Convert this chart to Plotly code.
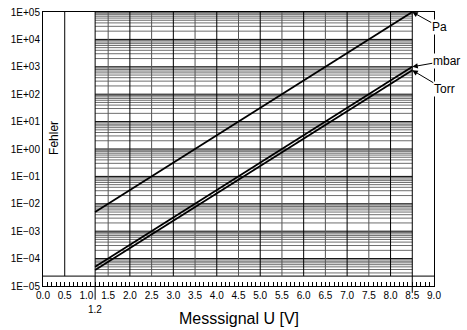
import numpy as np
import plotly.graph_objects as go

# Data
u_volts = [1.2, 8.5]
pa_vals = [5.0e-3, 1.0e5]
mbar_vals = [5.0e-5, 1.0e3]
torr_vals = [3.8e-5, 7.5e2]
series_names = ["Pa", "mbar", "Torr"]

x_tickvals = [0.0, 0.5, 1.0, 1.5, 2.0, 2.5, 3.0, 3.5, 4.0, 4.5, 5.0, 5.5, 6.0, 6.5, 7.0, 7.5, 8.0, 8.5, 9.0]
x_ticktext = ["0.0", "0.5", "1.0", "1.5", "2.0", "2.5", "3.0", "3.5", "4.0", "4.5",
              "5.0", "5.5", "6.0", "6.5", "7.0", "7.5", "8.0", "8.5", "9.0"]
y_exponents = [-5, -4, -3, -2, -1, 0, 1, 2, 3, 4, 5]
y_ticktext = ["1E\u221205", "1E\u221204", "1E\u221203", "1E\u221202", "1E\u221201", "1E+00",
              "1E+01", "1E+02", "1E+03", "1E+04", "1E+05"]
error_limit_u = 0.5
floor_p = 2.3e-5
top_p = 1.0e5

FONT = "Liberation Sans, Arial, sans-serif"

fig = go.Figure()

shapes = []
x0g, x1g = u_volts[0], u_volts[-1]
# horizontal grid lines within measuring range (shapes use data values on log axes)
for e in range(-5, 5):
    for k in range(1, 10):
        v = k * 10.0 ** e
        if v < floor_p:
            continue
        shapes.append(dict(type="line", xref="x", yref="y", x0=x0g, x1=x1g, y0=v, y1=v,
                           line=dict(color="#000000" if k == 1 else "#6e6e6e", width=1),
                           layer="below"))
shapes.append(dict(type="line", xref="x", yref="y", x0=x0g, x1=x1g, y0=top_p, y1=top_p,
                   line=dict(color="#000", width=1), layer="below"))
# floor line across full width
shapes.append(dict(type="line", xref="x", yref="y", x0=0, x1=9, y0=floor_p, y1=floor_p,
                   line=dict(color="#333", width=1.2), layer="below"))
# vertical grid lines
for xv in x_tickvals:
    if x0g < xv < x1g:
        shapes.append(dict(type="line", xref="x", yref="y", x0=xv, x1=xv, y0=floor_p, y1=top_p,
                           line=dict(color="#000" if abs(xv - round(xv)) < 1e-9 else "#555", width=1),
                           layer="below"))
# error limit line
shapes.append(dict(type="line", xref="x", yref="y", x0=error_limit_u, x1=error_limit_u,
                   y0=floor_p, y1=top_p, line=dict(color="#000", width=1), layer="below"))
# range boundaries extending below axis
shapes.append(dict(type="line", xref="x", yref="paper", x0=x0g, x1=x0g, y0=-0.05, y1=1,
                   line=dict(color="#000", width=1), layer="above"))
shapes.append(dict(type="line", xref="x", yref="paper", x0=x1g, x1=x1g, y0=-0.025, y1=1,
                   line=dict(color="#000", width=1), layer="above"))

for name, vals in zip(series_names, [pa_vals, mbar_vals, torr_vals]):
    fig.add_trace(go.Scatter(x=u_volts, y=vals, mode="lines", name=name,
                             line=dict(color="#000", width=1.8), showlegend=False))

annotations = []
offsets = {"Pa": (27, 15), "mbar": (34, -6), "Torr": (32, 19)}
for name, vals in zip(series_names, [pa_vals, mbar_vals, torr_vals]):
    ax, ay = offsets[name]
    annotations.append(dict(x=u_volts[-1], y=np.log10(vals[-1]), xref="x", yref="y",
                            text=name, showarrow=True, arrowhead=2, arrowsize=1.1,
                            arrowwidth=1, arrowcolor="#000", ax=ax, ay=ay,
                            font=dict(family=FONT, size=12, color="#000"),
                            bgcolor="white", borderpad=0, xanchor="center"))
annotations.append(dict(x=0.25, y=0.4, xref="x", yref="y", text="Fehler", textangle=-90,
                        showarrow=False, font=dict(family=FONT, size=12, color="#000"),
                        bgcolor="white"))
annotations.append(dict(x=x0g, y=0, xref="x", yref="paper", text="1.2", showarrow=False,
                        yshift=-23, yanchor="middle",
                        font=dict(family=FONT, size=10, color="#000")))
annotations.append(dict(x=0.5, y=0, xref="paper", yref="paper", text="Messsignal U [V]",
                        showarrow=False, yshift=-32, yanchor="middle",
                        font=dict(family=FONT, size=16, color="#000")))

fig.update_layout(
    width=467, height=330,
    margin=dict(l=43, r=33, t=12, b=44, autoexpand=False),
    paper_bgcolor="white", plot_bgcolor="white",
    shapes=shapes, annotations=annotations,
    font=dict(family=FONT, size=10, color="#000"),
    xaxis=dict(range=[0, 9], tickvals=x_tickvals, ticktext=x_ticktext, automargin=False,
               showgrid=False, zeroline=False, showline=True, linecolor="#000",
               linewidth=1, mirror=True, ticks="inside", ticklen=4, tickcolor="#000",
               minor=dict(dtick=0.1, ticks="inside", ticklen=4, tickcolor="#000", showgrid=False),
               tickfont=dict(family=FONT, size=10)),
    yaxis=dict(type="log", range=[-5, 5], tickvals=[10.0 ** e for e in y_exponents],
               ticktext=y_ticktext, automargin=False, showgrid=False, zeroline=False,
               showline=True, linecolor="#000", linewidth=1, mirror=True, ticks="",
               tickfont=dict(family=FONT, size=10)),
)

fig.write_html("out.html", config={"displayModeBar": False},
               post_script="document.body.style.margin='0';document.body.style.overflow='hidden';")
